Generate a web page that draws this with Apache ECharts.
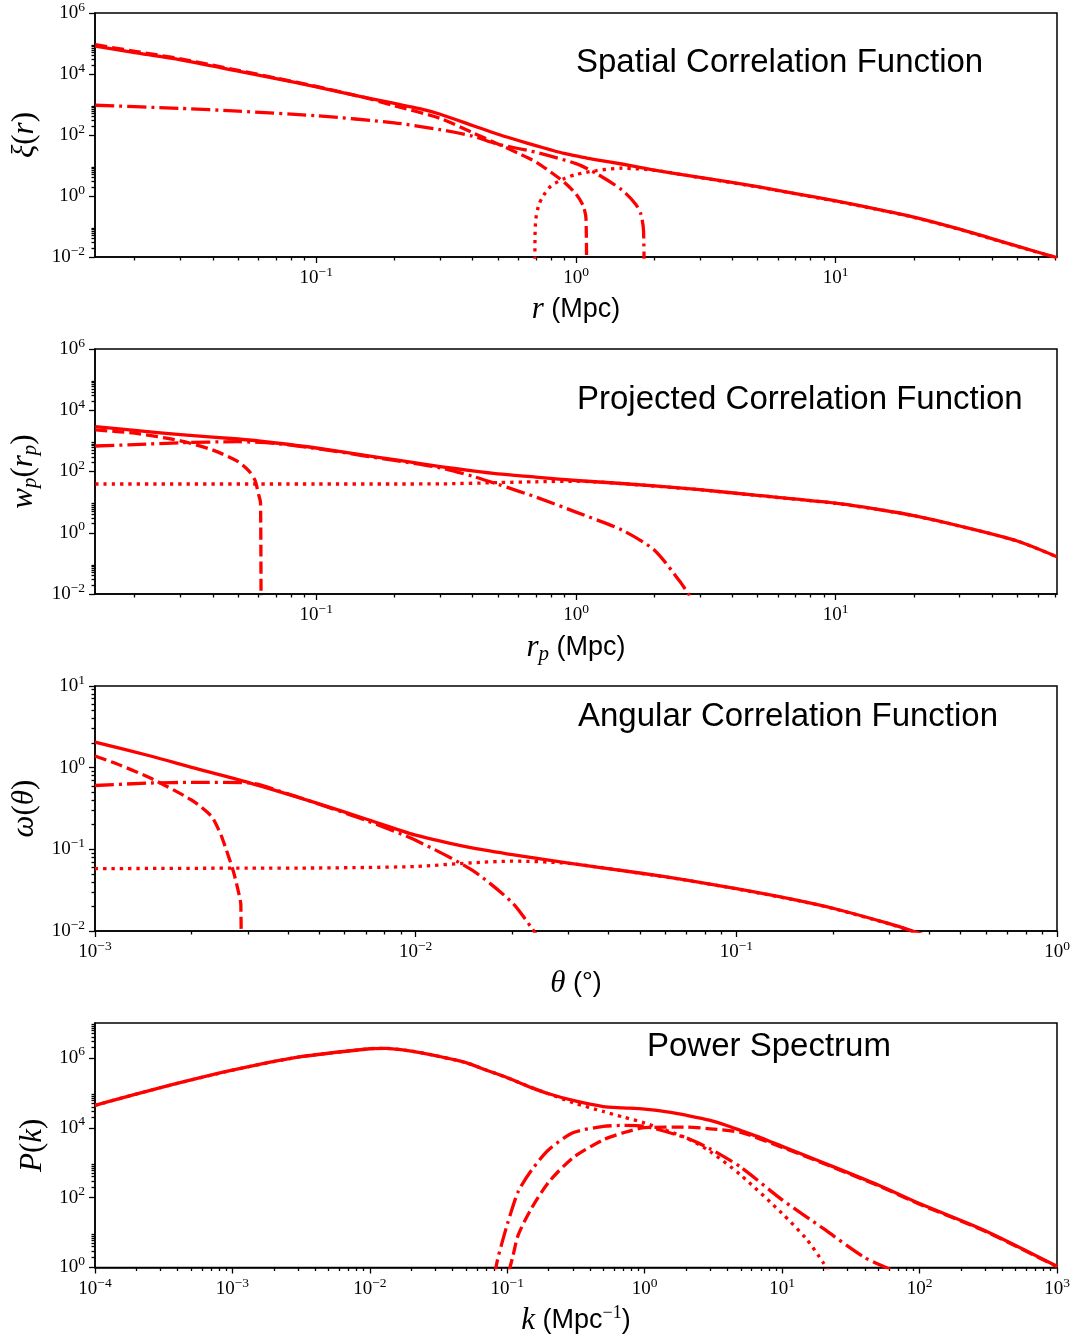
<!DOCTYPE html>
<html><head><meta charset="utf-8">
<script src="https://cdn.jsdelivr.net/npm/echarts@6/dist/echarts.min.js"></script>
<style>html,body{margin:0;padding:0;background:#fff}#c{width:1073px;height:1337px}</style>
</head><body><div id="c"></div>
<script>
// ---------------- DATA ----------------
// Panel 1: spatial correlation function xi(r), r in Mpc
const xiTotR   = [0.0141,0.02,0.03,0.05,0.07,0.1,0.15,0.2,0.25,0.3,0.4,0.5,0.6,0.7,0.8,0.9,1.0,1.1,1.2,1.5,1.8,2,3,5,7,10,15,20,30,50,71];
const xiTot    = [8.15e4,5.04e4,2.90e4,1.24e4,7.03e3,3.80e3,1.77e3,1.08e3,728,479,205,106,66.2,44.9,32.5,24.8,20.6,17.5,15.4,11.2,8.39,7.06,4.08,2.02,1.20,0.687,0.345,0.203,0.0815,0.0226,0.00955];
const xi1hR    = [0.0141,0.02,0.03,0.05,0.07,0.1,0.15,0.2,0.3,0.4,0.5,0.6,0.7,0.8,0.9,1.0,1.067,1.093,1.1];
const xi1h     = [9.1e4,5.56e4,3.15e4,1.32e4,7.36e3,3.92e3,1.77e3,910,352,119,51,25.2,13.2,6.03,2.83,1.16,0.466,0.172,1e-4];
const xi2hR    = [0.0141,0.03,0.05,0.1,0.2,0.3,0.4,0.5,0.7,1.0,1.2,1.5,1.7,1.78,1.82,1.835];
const xi2h     = [946,745,605,428,251,149,91.4,49.9,27.2,11.5,5.43,1.59,0.53,0.245,0.070,1e-4];
const xiDotR   = [0.694,0.695,0.70,0.72,0.75,0.8,0.9,1.0,1.2,1.5,2,3,5,7,10,15,20,30,50,71];
const xiDot    = [1e-4,0.0385,0.172,0.53,1.04,2.11,3.71,5.08,6.85,8.15,6.95,4.0,1.98,1.18,0.675,0.34,0.2,0.08,0.0222,0.0094];

// Panel 2: projected correlation function w_p(r_p)
const wpTotR   = [0.0141,0.02,0.03,0.05,0.07,0.1,0.15,0.2,0.3,0.4,0.5,0.7,1,1.5,3,5,10,15,20,30,50,71];
const wpTot    = [2.92e3,2.21e3,1.60e3,1.15e3,853,585,348,243,145,105,84,66,50.8,40.6,25.5,16.5,9.2,5.53,3.61,1.66,0.538,0.165];
const wp1hR    = [0.0141,0.02,0.03,0.04,0.05,0.055,0.058,0.060,0.061,0.0613];
const wp1h     = [2.27e3,1.78e3,998,500,210,105,53,17.3,9.4,1e-4];
const wp2hR    = [0.0141,0.02,0.03,0.05,0.07,0.1,0.15,0.2,0.3,0.4,0.5,0.7,1.0,1.5,2.0,2.5,2.75];
const wp2h     = [681,755,871,940,820,564,333,229,132,69.7,38.2,14.7,4.72,1.23,0.275,0.027,0.0083];
const wpDotR   = [0.0141,0.1,0.2,0.3,0.5,0.7,1.0,1.5,3,5,10,15,20,30,50,71];
const wpDot    = [39.1,39.1,39.1,39.4,43.4,46.1,48.2,40.4,25.3,16.4,9.15,5.5,3.59,1.65,0.535,0.164];

// Panel 3: angular correlation function omega(theta), theta in degrees
const omTotT   = [0.001,0.0015,0.002,0.003,0.005,0.007,0.01,0.015,0.02,0.03,0.05,0.07,0.1,0.15,0.2,0.3,0.36,0.4];
const omTot    = [2.06,1.38,1.01,0.66,0.36,0.235,0.149,0.104,0.0862,0.0676,0.0513,0.0420,0.0330,0.0244,0.0190,0.0123,0.0098,0.0085];
const om1hT    = [0.001,0.0012,0.0015,0.002,0.0023,0.0024,0.0025,0.0027,0.0028,0.00285,0.00287];
const om1h     = [1.39,1.07,0.735,0.402,0.258,0.193,0.133,0.0538,0.0303,0.0208,1e-4];
const om2hT    = [0.001,0.0015,0.002,0.003,0.004,0.005,0.007,0.01,0.015,0.02,0.023,0.024];
const om2h     = [0.605,0.649,0.660,0.653,0.477,0.357,0.226,0.129,0.0556,0.0223,0.0109,0.0085];
const omDotT   = [0.001,0.003,0.005,0.007,0.01,0.015,0.02,0.03,0.05,0.07,0.1,0.15,0.2,0.3,0.36,0.4];
const omDot    = [0.058,0.0589,0.0591,0.060,0.0617,0.0684,0.0716,0.0672,0.0510,0.0418,0.0328,0.0243,0.0189,0.0122,0.0097,0.0084];

// Panel 4: power spectrum P(k), k in 1/Mpc
const pkTotK   = [1e-4,3e-4,1e-3,3e-3,0.01,0.013,0.02,0.03,0.05,0.07,0.1,0.15,0.2,0.3,0.5,0.7,1,1.5,2,3,4,5,7,10,20,50,100,300,1000];
const pkTot    = [4.40e4,1.41e5,4.45e5,1.05e6,1.83e6,1.88e6,1.57e6,1.16e6,7.34e5,4.51e5,2.72e5,1.41e5,9.42e4,6.07e4,4.06e4,3.73e4,3.40e4,2.81e4,2.29e4,1.63e4,1.14e4,8.32e3,5.18e3,2.94e3,993,229,67.5,11.3,1.08];
const pk1hK    = [0.103,0.11,0.12,0.15,0.2,0.3,0.5,0.7,1,2,3,5,10,20,50,100,300,1000];
const pk1h     = [0.8,2.16,8.5,49.4,277,1.38e3,4.54e3,7.2e3,1.01e4,1.05e4,9.36e3,7.34e3,2.75e3,950,220,65,10.9,1.05];
const pk2hK    = [0.08,0.085,0.09,0.1,0.12,0.15,0.2,0.3,0.5,0.7,1,2,3,5,10,20,40,65];
const pk2h     = [0.5,1.7,4.0,17.1,148,607,2.35e3,7.2e3,1.09e4,1.17e4,1.10e4,5.14e3,2.48e3,743,86.5,12.9,1.92,0.8];
const pkDotK   = [1e-4,3e-4,1e-3,3e-3,0.01,0.013,0.02,0.03,0.05,0.07,0.1,0.15,0.2,0.3,0.5,0.7,1,2,3,5,10,15,20,22];
const pkDot    = [4.40e4,1.41e5,4.45e5,1.05e6,1.83e6,1.88e6,1.57e6,1.16e6,7.34e5,4.51e5,2.72e5,1.41e5,9.42e4,5.25e4,2.92e4,2.02e4,1.37e4,5.14e3,2.07e3,443,35.2,6.6,1.34,0.72];

// Axis ranges and tick exponents
const p1XRange = [0.01406, 71.1], p1YRange = [1e-2, 1e6];
const p3XRange = [1e-3, 1], p3YRange = [1e-2, 1e1];
const p4XRange = [1e-4, 1e3], p4YRange = [1e0, 1e7];
const rXTickExp   = [-1, 0, 1];
const evenYTickExp = [-2, 0, 2, 4, 6];
const p3XTickExp  = [-3, -2, -1, 0];
const p3YTickExp  = [-2, -1, 0, 1];
const p4XTickExp  = [-4, -3, -2, -1, 0, 1, 2, 3];
const p4YTickExp  = [0, 2, 4, 6];

const titles = ['Spatial Correlation Function','Projected Correlation Function','Angular Correlation Function','Power Spectrum'];

// ---------------- BUILD ----------------
const RED = '#ff0000';
const L = Math.log10;
const pairs = (xs, ys) => xs.map((x, i) => [L(x), L(ys[i])]);
function minors(decades, lo, hi) {
  const out = [];
  decades.forEach(d => { for (let m = 2; m <= 9; m++) { const v = d + L(m); if (v > lo + 1e-9 && v < hi - 1e-9) out.push(v); } });
  return out;
}
const range = (a, b) => { const o = []; for (let i = a; i <= b; i++) o.push(i); return o; };
const supFmt = v => { const e = Math.round(v); return '{b|10}{s|' + (e < 0 ? '\u2212' + (-e) : e) + '}'; };
const tickRich = {
  b: { fontFamily: 'Liberation Serif', fontSize: 19, color: '#000', lineHeight: 21 },
  s: { fontFamily: 'Liberation Serif', fontSize: 13.5, color: '#000', lineHeight: 14, padding: [0, 0, 12, 0] }
};
const nameRich = {
  mi: { fontFamily: 'Liberation Serif', fontStyle: 'italic', fontSize: 31, color: '#000' },
  mr: { fontFamily: 'Liberation Serif', fontSize: 31, color: '#000' },
  sub: { fontFamily: 'Liberation Serif', fontStyle: 'italic', fontSize: 21, color: '#000', padding: [13, 0, 0, 0] },
  ss: { fontFamily: 'Liberation Sans', fontSize: 27, color: '#000' },
  sup: { fontFamily: 'Liberation Serif', fontSize: 18, color: '#000', padding: [0, 0, 14, 0] }
};

const panels = [
  { top: 12, x: p1XRange, y: p1YRange, xLab: rXTickExp, xMaj: rXTickExp, xMinDec: range(-2, 1), yLab: evenYTickExp, yMaj: evenYTickExp, yMinDec: evenYTickExp,
    xName: '{mi|r}{ss| (Mpc)}', yName: '{mi|ξ}{mr|(}{mi|r}{mr|)}', yGap: 55,
    series: [[xiTotR, xiTot, 'solid'], [xi1hR, xi1h, 'dashed'], [xi2hR, xi2h, 'dashdot'], [xiDotR, xiDot, 'dotted']] },
  { top: 349, x: p1XRange, y: p1YRange, xLab: rXTickExp, xMaj: rXTickExp, xMinDec: range(-2, 1), yLab: evenYTickExp, yMaj: evenYTickExp, yMinDec: evenYTickExp,
    xName: '{mi|r}{sub|p}{ss| (Mpc)}', yName: '{mi|w}{sub|p}{mr|(}{mi|r}{sub|p}{mr|)}', yGap: 52,
    series: [[wpTotR, wpTot, 'solid'], [wp1hR, wp1h, 'dashed'], [wp2hR, wp2h, 'dashdot'], [wpDotR, wpDot, 'dotted']] },
  { top: 686, x: p3XRange, y: p3YRange, xLab: p3XTickExp, xMaj: p3XTickExp, xMinDec: range(-3, -1), yLab: p3YTickExp, yMaj: p3YTickExp, yMinDec: range(-2, 0),
    xName: '{mi|θ}{ss| (°)}', yName: '{mi|ω}{mr|(}{mi|θ}{mr|)}', yGap: 53,
    series: [[omTotT, omTot, 'solid'], [om1hT, om1h, 'dashed'], [om2hT, om2h, 'dashdot'], [omDotT, omDot, 'dotted']] },
  { top: 1023, x: p4XRange, y: p4YRange, xLab: p4XTickExp, xMaj: p4XTickExp, xMinDec: range(-4, 2), yLab: p4YTickExp, yMaj: p4YTickExp, yMinDec: p4YTickExp,
    xName: '{mi|k}{ss| (Mpc}{sup|\u22121}{ss|)}', yName: '{mi|P}{mr|(}{mi|k}{mr|)}', yGap: 39,
    series: [[pkTotK, pkTot, 'solid'], [pk1hK, pk1h, 'dashed'], [pk2hK, pk2h, 'dashdot'], [pkDotK, pkDot, 'dotted']] }
];

const dashes = { solid: 'solid', dashed: [12, 5], dashdot: [19, 5, 3, 5], dotted: [3.3, 5] };
const grid = [], xAxis = [], yAxis = [], series = [], graphic = [];
const lineCol = { color: '#000', width: 1.3 };

panels.forEach((p, i) => {
  grid.push({ left: 95, top: p.top, width: 962, height: 245, show: true, borderColor: '#000', borderWidth: 1.5, backgroundColor: 'transparent' });
  const xmin = L(p.x[0]), xmax = L(p.x[1]), ymin = L(p.y[0]), ymax = L(p.y[1]);
  xAxis.push({
    gridIndex: i, type: 'value', min: xmin, max: xmax, position: 'bottom',
    axisLine: { show: true, onZero: false, lineStyle: { color: '#000', width: 1.5 } },
    axisTick: { show: true, inside: false, length: 6, customValues: p.xMaj, lineStyle: lineCol },
    axisLabel: { show: true, customValues: p.xLab, formatter: supFmt, margin: 11, rich: tickRich },
    splitLine: { show: false },
    name: p.xName, nameLocation: 'middle', nameGap: 37, nameTextStyle: { rich: nameRich }
  });
  xAxis.push({
    gridIndex: i, type: 'value', min: xmin, max: xmax, position: 'bottom',
    axisLine: { show: false, onZero: false },
    axisTick: { show: true, inside: false, length: 3.5, customValues: minors(p.xMinDec, xmin, xmax), lineStyle: lineCol },
    axisLabel: { show: false }, splitLine: { show: false }
  });
  yAxis.push({
    gridIndex: i, type: 'value', min: ymin, max: ymax, position: 'left',
    axisLine: { show: true, onZero: false, lineStyle: { color: '#000', width: 1.5 } },
    axisTick: { show: true, inside: false, length: 6, customValues: p.yMaj, lineStyle: lineCol },
    axisLabel: { show: true, customValues: p.yLab, formatter: supFmt, margin: 10, rich: tickRich },
    splitLine: { show: false },
    name: p.yName, nameLocation: 'middle', nameRotate: 90, nameGap: p.yGap, nameTextStyle: { rich: nameRich }
  });
  yAxis.push({
    gridIndex: i, type: 'value', min: ymin, max: ymax, position: 'left',
    axisLine: { show: false, onZero: false },
    axisTick: { show: true, inside: false, length: 3.5, customValues: minors(p.yMinDec, ymin, ymax), lineStyle: lineCol },
    axisLabel: { show: false }, splitLine: { show: false }
  });
  p.series.forEach(([xs, ys, st]) => {
    series.push({
      type: 'line', xAxisIndex: 2 * i, yAxisIndex: 2 * i, data: pairs(xs, ys),
      showSymbol: false, symbol: 'none', clip: true, silent: true,
      smooth: 0.25,
      lineStyle: { color: RED, width: 3.3, type: dashes[st], cap: 'butt', join: 'round' }
    });
  });
});

const titlePos = [[576, 46], [577, 383], [578, 700], [647, 1030]];
titles.forEach((t, i) => {
  graphic.push({ type: 'text', left: titlePos[i][0], top: titlePos[i][1], z: 10,
    style: { text: t, font: '33px "Liberation Sans"', fill: '#000' } });
});

const chart = echarts.init(document.getElementById('c'), null, { renderer: 'canvas' });
chart.setOption({ animation: false, backgroundColor: '#fff', grid, xAxis, yAxis, series, graphic });
</script></body></html>
